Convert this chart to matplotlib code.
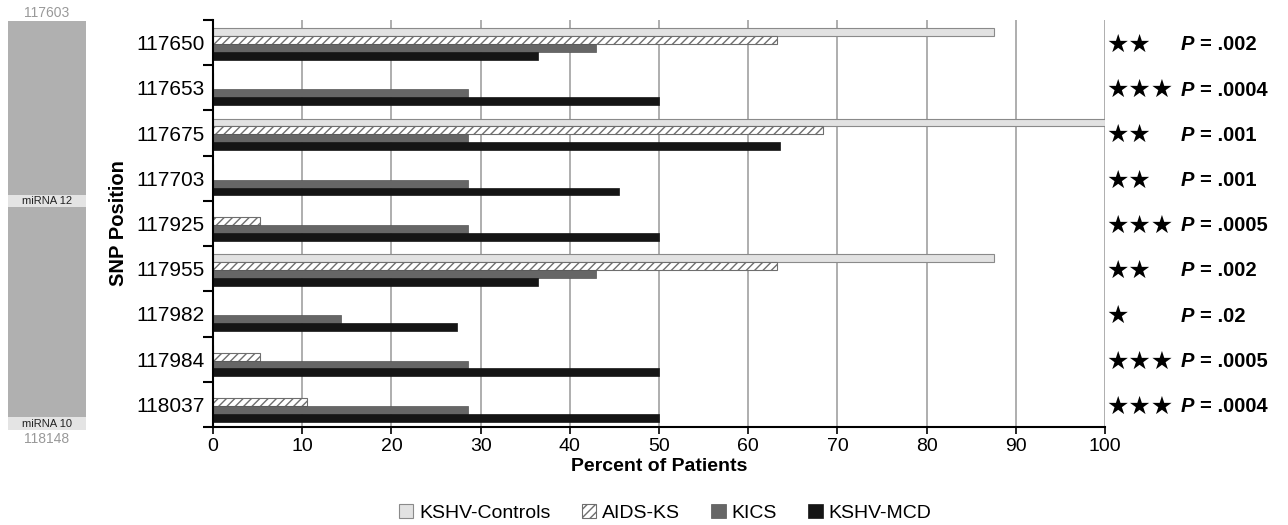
import matplotlib
matplotlib.use("Agg")
import matplotlib.pyplot as plt
import numpy as np
from matplotlib.patches import Rectangle

plt.rcParams['font.family'] = ['Liberation Sans', 'DejaVu Sans']
plt.rcParams['hatch.linewidth'] = 1.0

snps = ["117650", "117653", "117675", "117703", "117925", "117955", "117982", "117984", "118037"]
series = ["KSHV-Controls", "AIDS-KS", "KICS", "KSHV-MCD"]
controls = [87.5, 0, 100, 0, 0, 87.5, 0, 0, 0]
aids_ks = [63.2, 0, 68.4, 0, 5.3, 63.2, 0, 5.3, 10.5]
kics = [42.9, 28.6, 28.6, 28.6, 28.6, 42.9, 14.3, 28.6, 28.6]
mcd = [36.4, 50.0, 63.6, 45.5, 50.0, 36.4, 27.3, 50.0, 50.0]
stars = ["★★", "★★★", "★★", "★★", "★★★", "★★", "★", "★★★", "★★★"]
pvals = [".002", ".0004", ".001", ".001", ".0005", ".002", ".02", ".0005", ".0004"]
xticks = [0, 10, 20, 30, 40, 50, 60, 70, 80, 90, 100]

W, H = 1288, 525
fig = plt.figure(figsize=(W / 100, H / 100), dpi=100)
ax = fig.add_axes([213 / W, 1 - 427 / H, (1105 - 213) / W, (427 - 20) / H])

y = np.arange(len(snps))
h = 0.175
styles = [
    dict(color="#e2e2e2", edgecolor="#8a8a8a", linewidth=0.8),
    dict(color="white", edgecolor="#6e6e6e", hatch="////", linewidth=0.8),
    dict(color="#666666", edgecolor="#555555", linewidth=0.5),
    dict(color="#151515", edgecolor="#151515", linewidth=0.5),
]
data = [controls, aids_ks, kics, mcd]
handles = []
for k, (vals, st) in enumerate(zip(data, styles)):
    b = ax.barh(y + (k - 1.5) * h + 0.03, vals, height=h, label=series[k], **st)
    handles.append(b)

ax.set_xlim(0, 100)
ax.set_ylim(len(snps) - 0.5, -0.5)
ax.set_xticks(xticks)
ax.set_xticklabels([str(v) for v in xticks], fontsize=14)
ax.set_yticks(y)
ax.set_yticklabels(snps, fontsize=15)
ax.set_yticks(np.arange(-0.5, len(snps), 1), minor=True)
ax.tick_params(axis='y', which='major', length=0, pad=6)
ax.tick_params(axis='y', which='minor', length=7, width=1.5, direction='out')
ax.tick_params(axis='x', which='major', length=5, width=1.2, direction='out', pad=3)
ax.xaxis.grid(True, color="#a8a8a8", linewidth=1.3)
ax.set_axisbelow(True)
for s in ["top", "right"]:
    ax.spines[s].set_visible(False)
ax.spines["left"].set_linewidth(1.5)
ax.spines["bottom"].set_linewidth(1.5)
ax.set_xlabel("Percent of Patients", fontsize=14, fontweight="bold", labelpad=2)
ax.set_ylabel("SNP Position", fontsize=14.5, fontweight="bold", labelpad=6)

# significance annotations
trans = ax.get_yaxis_transform()
span = 1105 - 213
for i in range(len(snps)):
    yc = y[i] + 0.05
    ax.text((1106 - 213) / span, yc, stars[i], transform=trans, fontsize=18, va="center", ha="left",
            family="DejaVu Sans", clip_on=False)
    ax.text((1181 - 213) / span, yc, "P", transform=trans, fontsize=14.5, fontweight="bold",
            style="italic", va="center", ha="left", clip_on=False)
    ax.text((1200 - 213) / span, yc, "= " + pvals[i], transform=trans, fontsize=14.5,
            fontweight="bold", va="center", ha="left", clip_on=False)

# genome sidebar
sax = fig.add_axes([0, 0, 1, 1], zorder=-1)
sax.set_xlim(0, W)
sax.set_ylim(H, 0)
sax.axis("off")
sax.add_patch(Rectangle((8, 21), 78, 409, facecolor="#b0b0b0", edgecolor="none"))
sax.add_patch(Rectangle((8, 195), 78, 12, facecolor="#e4e4e4", edgecolor="none"))
sax.add_patch(Rectangle((8, 417), 78, 13, facecolor="#e4e4e4", edgecolor="none"))
sax.text(47, 201, "miRNA 12", fontsize=8, ha="center", va="center", color="#222222")
sax.text(47, 424, "miRNA 10", fontsize=8, ha="center", va="center", color="#222222")
sax.text(47, 13, "117603", fontsize=10, ha="center", va="center", color="#999999")
sax.text(47, 439, "118148", fontsize=10, ha="center", va="center", color="#999999")

fig.legend(handles=handles, labels=series, loc="center", bbox_to_anchor=(665 / W, 1 - 513 / H),
           ncol=4, frameon=False, fontsize=14, handlelength=0.75, handleheight=0.75,
           handletextpad=0.3, columnspacing=1.6)

fig.savefig("out.png", dpi=100)
